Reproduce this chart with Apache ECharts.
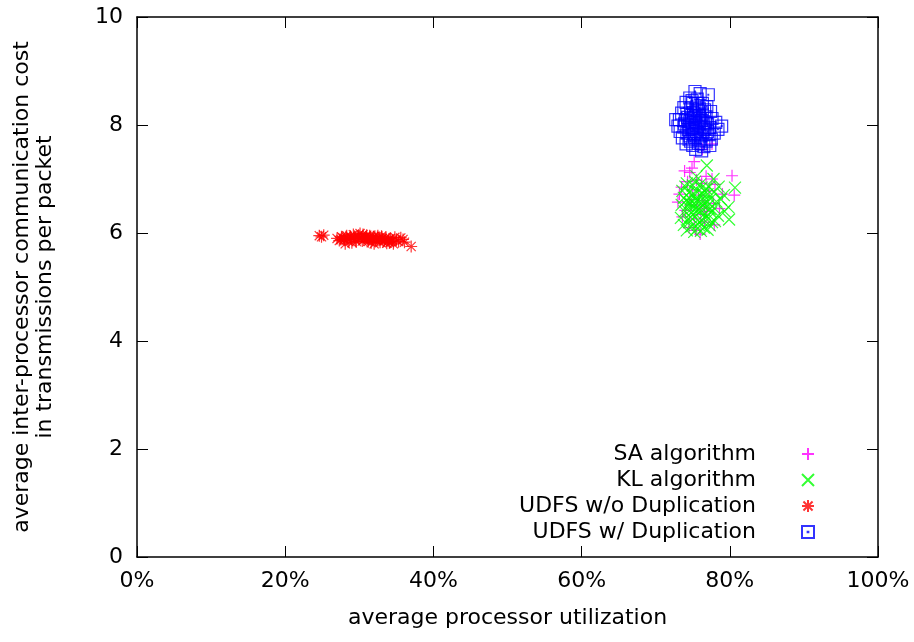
<!DOCTYPE html>
<html>
<head>
<meta charset="utf-8">
<script src="https://cdn.jsdelivr.net/npm/echarts@6/dist/echarts.min.js"></script>
<style>
  html, body { margin: 0; padding: 0; background: #fff; }
  #chart { width: 914px; height: 642px; }
</style>
</head>
<body>
<div id="chart"></div>
<script>
// tick labels
const xTicks = [0, 20, 40, 60, 80, 100];
const yTicks = [0, 2, 4, 6, 8, 10];
const seriesNames = ['SA algorithm', 'KL algorithm', 'UDFS w/o Duplication', 'UDFS w/ Duplication'];

// [utilization %, cost]
const saPoints = [
  [75.2,7.32],[73.9,7.15],[74.6,7.12],[76.8,7.05],[77.6,7.00],[80.3,7.06],[75.5,6.98],[74.3,6.95],
  [76.2,6.92],[78.0,6.90],[73.5,6.85],[75.0,6.80],[77.2,6.78],[80.6,6.70],[79.0,6.72],[73.0,6.57],
  [74.6,6.62],[76.4,6.60],[77.8,6.55],[75.6,6.50],[74.0,6.42],[76.9,6.40],[78.6,6.45],[73.6,6.30],
  [75.2,6.26],[76.6,6.20],[77.9,6.15],[74.5,6.10],[76.0,5.98],[75.4,6.05],[77.6,7.65],[76.3,7.55],
  [74.9,7.20],[73.2,6.72],[75.8,6.70],[76.6,6.46],[74.8,6.52],[76.1,6.34]
];
const klPoints = [
  [76.9,7.25],[75.5,7.05],[77.8,7.00],[74.2,6.92],[75.0,6.88],[76.0,6.90],[77.2,6.85],[78.5,6.86],
  [80.7,6.84],[73.6,6.78],[74.5,6.75],[75.4,6.78],[76.3,6.74],[77.0,6.72],[77.9,6.76],[79.2,6.70],
  [73.8,6.65],[74.7,6.62],[75.6,6.66],[76.5,6.60],[77.4,6.63],[78.2,6.58],[73.5,6.52],[74.3,6.50],
  [75.2,6.54],[76.1,6.48],[77.0,6.50],[77.9,6.46],[79.8,6.48],[73.9,6.40],[74.8,6.38],[75.7,6.42],
  [76.6,6.36],[77.5,6.38],[78.4,6.32],[73.4,6.28],[74.4,6.26],[75.3,6.30],[76.2,6.24],[77.1,6.27],
  [78.0,6.22],[79.9,6.25],[73.8,6.15],[74.8,6.12],[75.7,6.16],[76.5,6.10],[77.3,6.14],[74.2,6.05],
  [75.2,6.02],[76.1,6.04],[77.0,6.06],[75.9,6.58],[74.9,6.46],[76.8,6.82],[75.3,6.95],[78.8,6.62],
  [79.3,6.40],[76.4,6.70],[74.0,6.86],[77.6,6.20],[74.6,6.56],[75.5,6.60],[76.3,6.52],[75.0,6.70],
  [76.0,6.40],[74.7,6.30],[75.9,6.20],[76.9,6.58],[75.3,6.44],[74.1,6.60],[77.3,6.44],[76.7,6.28],
  [75.6,6.08],[74.5,6.20],[76.2,6.84]
];
const udfsNoDupPoints = [
  [24.6,5.95],[24.9,5.93],[25.2,5.96],[27.0,5.90],[27.3,5.86],[27.6,5.93],[28.0,5.88],[28.3,5.95],
  [28.6,5.84],[28.9,5.91],[29.2,5.97],[29.5,5.87],[29.8,5.93],[30.1,5.99],[30.4,5.85],[30.7,5.91],
  [31.0,5.96],[31.3,5.88],[31.6,5.82],[31.9,5.93],[32.2,5.87],[32.5,5.95],[32.8,5.83],[33.1,5.90],
  [33.4,5.86],[33.7,5.81],[34.0,5.89],[34.3,5.84],[34.6,5.80],[35.0,5.87],[35.6,5.91],[36.1,5.83],
  [37.0,5.75],[29.0,5.82],[30.0,5.90],[31.5,5.92],[32.0,5.80],[33.0,5.94],[34.8,5.92],[28.1,5.80],
  [27.8,5.91],[28.4,5.89],[28.8,5.94],[29.3,5.90],[29.6,5.84],[29.9,5.96],[30.3,5.92],[30.6,5.87],
  [30.9,5.93],[31.2,5.84],[31.8,5.89],[32.1,5.94],[32.4,5.86],[32.7,5.91],[33.2,5.84],[33.6,5.92],
  [33.9,5.85],[34.2,5.90],[34.5,5.86],[35.3,5.84],[29.4,5.93],[30.5,5.97],[31.1,5.90],[32.9,5.88],
  [34.1,5.82],[27.5,5.88],[28.2,5.93],[31.4,5.95],[33.5,5.89],[35.9,5.88]
];
const udfsDupPoints = [
  [75.3,8.62],[76.0,8.58],[77.1,8.56],[74.6,8.50],[75.6,8.48],[74.1,8.42],[75.0,8.40],[76.3,8.40],
  [73.8,8.32],[74.7,8.30],[75.5,8.33],[76.6,8.28],[77.4,8.25],[73.5,8.22],[74.2,8.20],[75.1,8.22],
  [75.9,8.18],[76.8,8.15],[77.6,8.12],[73.2,8.10],[74.0,8.08],[74.8,8.12],[75.4,8.05],[76.2,8.08],
  [77.0,8.02],[78.1,8.05],[73.0,7.98],[73.8,7.96],[74.5,8.00],[75.2,7.95],[75.9,7.98],[76.6,7.92],
  [77.3,7.95],[78.4,7.92],[73.3,7.88],[74.2,7.85],[74.9,7.88],[75.6,7.84],[76.4,7.86],[77.2,7.82],
  [77.9,7.85],[73.6,7.76],[74.5,7.74],[75.3,7.76],[76.0,7.72],[76.8,7.70],[77.5,7.74],[74.1,7.65],
  [75.0,7.62],[75.8,7.66],[76.5,7.60],[77.3,7.62],[76.2,7.52],[75.4,7.55],[74.8,8.18],[75.7,8.26],
  [76.1,7.80],[74.4,7.92],[75.0,8.05],[76.9,8.34],[78.9,7.98],[72.7,8.10],[74.6,8.06],[75.2,8.14],
  [75.8,8.02],[76.4,7.96],[74.9,7.94],[75.5,7.88],[76.0,8.12],[74.3,8.14],[75.1,7.82],[76.7,8.04],
  [75.7,8.40],[74.9,8.45],[76.1,7.65],[74.7,7.70],[75.9,8.30],[73.9,8.02],[77.0,7.88],[75.4,8.16],
  [76.3,8.20],[74.6,7.80]
];

const plusPath = 'path://M5,0L5,10M0,5L10,5';
const crossPath = 'path://M0,0L10,10M10,0L0,10';
const starPath = 'path://M5,0L5,10M0,5L10,5M1.2,1.2L8.8,8.8M8.8,1.2L1.2,8.8';
const boxPath = 'path://M0,0L10,0L10,10L0,10Z M4.7,4.7L5.3,4.7L5.3,5.3L4.7,5.3Z';

const font = 'DejaVu Sans, Liberation Sans, Arial, sans-serif';
const fontSize = 22;

function mkSeries(name, data, symbol, color) {
  return {
    name: name,
    type: 'scatter',
    data: data,
    symbol: symbol,
    symbolSize: 12,
    itemStyle: { color: 'rgba(0,0,0,0)', borderColor: color, borderWidth: 1.2 },
    emphasis: { disabled: true },
    animation: false
  };
}

function mkLegend(name, top) {
  return {
    data: [name],
    right: 99,
    top: top,
    padding: 0,
    align: 'right',
    itemWidth: 12,
    itemHeight: 12,
    selectedMode: false,
    textStyle: { fontFamily: font, fontSize: fontSize, color: '#000', padding: [0, 41, 0, 0] }
  };
}

const chart = echarts.init(document.getElementById('chart'), null, { renderer: 'canvas' });

const axisLineStyle = { color: '#000', width: 1.5 };
const tickStyle = { show: true, inside: true, length: 11, lineStyle: { color: '#000', width: 1 } };

chart.setOption({
  backgroundColor: '#fff',
  animation: false,
  grid: { left: 137, right: 36, top: 17, bottom: 85, containLabel: false },
  legend: [
    mkLegend(seriesNames[0], 443),
    mkLegend(seriesNames[1], 469),
    mkLegend(seriesNames[2], 495),
    mkLegend(seriesNames[3], 521)
  ],
  xAxis: [{
    type: 'value', min: 0, max: 100, interval: 20,
    name: 'average processor utilization',
    nameLocation: 'middle', nameGap: 50,
    nameTextStyle: { fontFamily: font, fontSize: fontSize, color: '#000' },
    axisLine: { show: true, onZero: false, lineStyle: axisLineStyle },
    axisTick: tickStyle,
    axisLabel: { fontFamily: font, fontSize: fontSize, color: '#000', margin: 13,
      formatter: v => (xTicks.indexOf(v) >= 0 ? v + '%' : '') },
    splitLine: { show: false }
  }, {
    type: 'value', min: 0, max: 100, interval: 20, position: 'top',
    axisLine: { show: true, onZero: false, lineStyle: axisLineStyle },
    axisTick: tickStyle,
    axisLabel: { show: false },
    splitLine: { show: false }
  }],
  yAxis: [{
    type: 'value', min: 0, max: 10, interval: 2,
    name: 'average inter-processor communication cost\nin transmissions per packet',
    nameLocation: 'middle', nameGap: 80,
    nameTextStyle: { fontFamily: font, fontSize: fontSize, color: '#000', lineHeight: 23 },
    axisLine: { show: true, onZero: false, lineStyle: axisLineStyle },
    axisTick: tickStyle,
    axisLabel: { fontFamily: font, fontSize: fontSize, color: '#000', margin: 14,
      formatter: v => (yTicks.indexOf(v) >= 0 ? String(v) : '') },
    splitLine: { show: false }
  }, {
    type: 'value', min: 0, max: 10, interval: 2, position: 'right',
    axisLine: { show: true, onZero: false, lineStyle: axisLineStyle },
    axisTick: tickStyle,
    axisLabel: { show: false },
    splitLine: { show: false }
  }],
  series: [
    mkSeries(seriesNames[0], saPoints, plusPath, '#ff00ff'),
    mkSeries(seriesNames[1], klPoints, crossPath, '#00ff00'),
    mkSeries(seriesNames[2], udfsNoDupPoints, starPath, '#ff0000'),
    mkSeries(seriesNames[3], udfsDupPoints, boxPath, '#0000ff')
  ]
});
</script>
</body>
</html>
